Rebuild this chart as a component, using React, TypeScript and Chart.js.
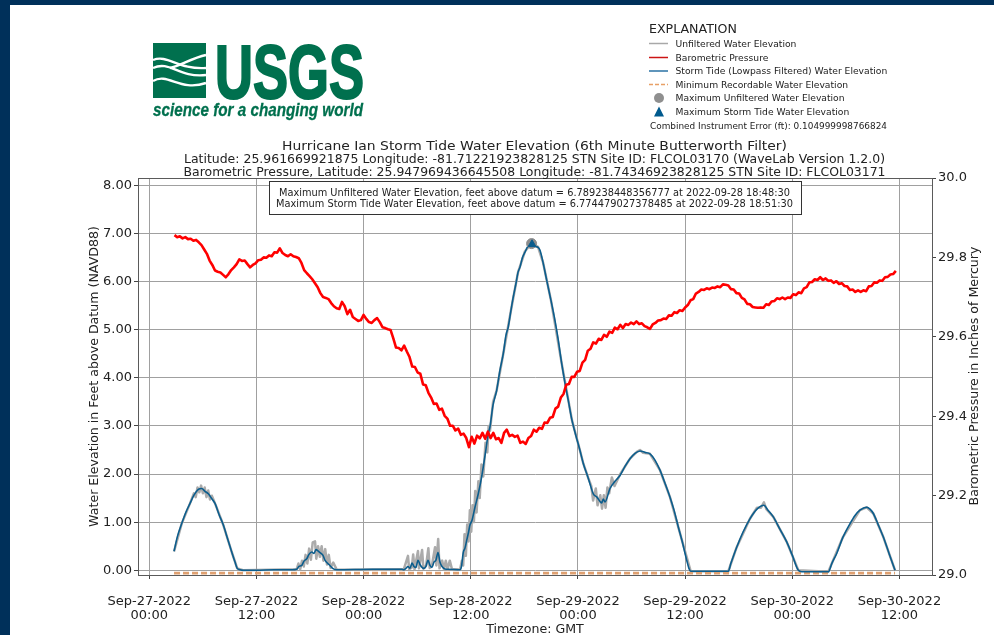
import React, { useEffect, useRef } from "react";
import { Chart, registerables } from "chart.js";

Chart.register(...registerables);

const FONT = "'DejaVu Sans', sans-serif";
const NAVY = "#00305a";
const GREEN = "#00704e";
const BLUE = "#0b5d8d";

const xTickHours = [0, 12, 24, 36, 48, 60, 72, 84];
const xTickLabels = [
  ["Sep-27-2022", "00:00"],
  ["Sep-27-2022", "12:00"],
  ["Sep-28-2022", "00:00"],
  ["Sep-28-2022", "12:00"],
  ["Sep-29-2022", "00:00"],
  ["Sep-29-2022", "12:00"],
  ["Sep-30-2022", "00:00"],
  ["Sep-30-2022", "12:00"],
];

const pressureFirstHour = 2.82;
const pressureLastHour = 83.6;
const pressure = [
  29.856, 29.851, 29.853, 29.848, 29.851, 29.846, 29.847, 29.842, 29.844, 29.838,
  29.831, 29.82, 29.809, 29.792, 29.781, 29.767, 29.764, 29.762, 29.756, 29.75,
  29.758, 29.768, 29.775, 29.783, 29.795, 29.791, 29.792, 29.783, 29.775, 29.781,
  29.785, 29.793, 29.794, 29.8, 29.799, 29.805, 29.803, 29.813, 29.812, 29.823,
  29.811, 29.806, 29.803, 29.808, 29.803, 29.801, 29.798, 29.786, 29.768, 29.76,
  29.753, 29.745, 29.735, 29.725, 29.71, 29.7, 29.698, 29.695, 29.685, 29.677,
  29.672, 29.67, 29.688, 29.677, 29.657, 29.668, 29.65, 29.645, 29.64, 29.642,
  29.655, 29.645, 29.637, 29.635, 29.642, 29.647, 29.637, 29.624, 29.622, 29.619,
  29.617, 29.596, 29.573, 29.572, 29.566, 29.578, 29.563, 29.549, 29.525, 29.524,
  29.51, 29.507, 29.48, 29.478, 29.459, 29.447, 29.431, 29.432, 29.416, 29.419,
  29.401, 29.394, 29.376, 29.376, 29.364, 29.369, 29.353, 29.356, 29.345, 29.322,
  29.348, 29.331, 29.351, 29.344, 29.358, 29.343, 29.361, 29.345, 29.358, 29.342,
  29.345, 29.333, 29.358, 29.366, 29.35, 29.353, 29.348, 29.351, 29.333, 29.336,
  29.33, 29.345, 29.35, 29.366, 29.361, 29.371, 29.368, 29.384, 29.383, 29.396,
  29.398, 29.419, 29.424, 29.447, 29.456, 29.479, 29.481, 29.499, 29.499, 29.512,
  29.514, 29.535, 29.542, 29.565, 29.57, 29.586, 29.583, 29.595, 29.592, 29.605,
  29.6, 29.613, 29.61, 29.623, 29.619, 29.63, 29.622, 29.632, 29.63, 29.636,
  29.632, 29.639, 29.632, 29.634, 29.627, 29.624, 29.62, 29.631, 29.635, 29.641,
  29.642, 29.646, 29.645, 29.654, 29.653, 29.662, 29.66, 29.667, 29.665, 29.674,
  29.68, 29.692, 29.695, 29.709, 29.713, 29.719, 29.718, 29.722, 29.72, 29.724,
  29.723, 29.727, 29.725, 29.732, 29.731, 29.729, 29.72, 29.719, 29.71, 29.709,
  29.698, 29.694, 29.683, 29.682, 29.675, 29.674, 29.673, 29.674, 29.673, 29.682,
  29.68, 29.689, 29.69, 29.697, 29.695, 29.699, 29.695, 29.699, 29.698, 29.707,
  29.705, 29.712, 29.71, 29.722, 29.725, 29.737, 29.738, 29.745, 29.743, 29.75,
  29.743, 29.747, 29.741, 29.742, 29.736, 29.74, 29.733, 29.735, 29.728, 29.727,
  29.718, 29.719, 29.713, 29.717, 29.713, 29.717, 29.715, 29.727, 29.728, 29.737,
  29.736, 29.742, 29.741, 29.75, 29.751, 29.757, 29.758, 29.766,
];

const tideHours = [
  2.77, 3.16, 3.63, 4.11, 4.56, 5.0, 5.49, 5.87, 6.24, 6.61, 7.02, 7.36, 7.81, 8.29, 8.76, 9.23, 9.6, 9.85, 10.16, 10.53,
  12, 14, 16, 16.5, 16.76, 17.07, 17.32, 17.63, 17.88, 18.19, 18.44, 18.67, 18.92, 19.23, 19.45, 19.67, 20.12, 20.54, 20.99,
  25, 28.26, 28.52, 28.74, 28.97, 29.19, 29.42, 29.64, 29.86, 30.09, 30.31, 30.54, 30.76, 30.98, 31.21, 31.43, 31.65, 31.88,
  32.1, 32.33, 32.55, 32.77, 32.99, 33.22, 33.45, 34.79, 34.96, 35.16, 35.35, 35.54, 35.75, 35.91, 36.14, 36.47, 36.84,
  37.22, 37.4, 37.65, 37.96, 38.15, 38.49, 38.9, 39.27, 39.64, 39.94, 40.2, 40.5, 40.76, 41.06, 41.29, 41.51, 41.79, 42.07,
  42.41, 42.82, 43.19, 43.53, 43.75, 44.09, 44.5, 44.98, 45.43, 45.77, 46.18, 46.55, 46.92, 47.33, 47.67, 48.23, 48.6,
  49.13, 49.72, 50.13, 50.66, 50.84, 51.03, 51.59, 52.15, 52.71, 53.27, 53.83, 54.39, 54.95, 55.51, 56.07, 56.63, 57.19,
  57.75, 58.31, 58.76, 59.24, 59.65, 60.18, 60.43, 60.63, 64.84, 65.14, 65.78, 66.48, 67.26, 68.05, 68.83, 69.28, 69.88,
  70.63, 71.38, 71.97, 72.68, 73.06, 76.04, 76.45, 76.98, 77.68, 78.47, 79.03, 79.58, 80.34, 80.71, 81.08, 81.6, 82.2, 82.84, 83.51,
];
const tideFeet = [
  0.395, 0.71, 0.97, 1.21, 1.39, 1.56, 1.68, 1.7, 1.64, 1.59, 1.48, 1.39, 1.16, 0.94, 0.66, 0.38, 0.17, 0.04, 0.01, 0,
  0, 0.01, 0.01, 0.02, 0.08, 0.1, 0.19, 0.24, 0.33, 0.38, 0.35, 0.43, 0.4, 0.35, 0.31, 0.21, 0.12, 0.04, 0.01,
  0.02, 0.02, 0.01, 0.04, 0.08, 0.04, 0.15, 0.08, 0.06, 0.21, 0.12, 0.06, 0.04, 0.08, 0.21, 0.1, 0.06, 0.17,
  0.21, 0.37, 0.17, 0.08, 0.04, 0.02, 0.02, 0.01, 0.08, 0.37, 0.46, 0.62, 0.79, 0.94, 1.04, 1.31, 1.59,
  1.94, 2.15, 2.45, 2.84, 2.98, 3.43, 3.74, 4.16, 4.5, 4.88, 5.06, 5.4, 5.68, 5.96, 6.19, 6.3, 6.5, 6.61,
  6.73, 6.75, 6.73, 6.71, 6.65, 6.4, 6.03, 5.61, 5.19, 4.82, 4.3, 3.89, 3.53, 3.12, 2.87, 2.49, 2.22,
  1.93, 1.59, 1.52, 1.4, 1.48, 1.42, 1.7, 1.85, 1.97, 2.16, 2.32, 2.43, 2.48, 2.45, 2.42, 2.29, 2.08,
  1.81, 1.52, 1.25, 0.9, 0.62, 0.21, 0.04, -0.02, -0.02, 0.15, 0.48, 0.79, 1.07, 1.27, 1.35, 1.25, 1.11,
  0.85, 0.59, 0.33, 0, -0.03, -0.03, 0.15, 0.35, 0.69, 0.97, 1.14, 1.25, 1.31, 1.27, 1.18, 0.96, 0.69, 0.35, 0,
];

const rawHours = [
  2.77, 3.63, 4.56, 5.0, 5.2, 5.4, 5.6, 5.8, 6.0, 6.2, 6.4, 6.6, 6.8, 7.0, 7.36, 8.29, 9.23, 9.85, 10.5, 16.5,
  16.7, 16.9, 17.1, 17.3, 17.5, 17.7, 17.9, 18.1, 18.3, 18.56, 18.7, 18.9, 19.1, 19.3, 19.5, 19.7, 19.9, 20.1, 20.3, 20.6, 21, 28.3,
  28.5, 28.97, 29.1, 29.4, 29.55, 29.7, 30.09, 30.2, 30.55, 30.7, 31.0, 31.25, 31.4, 31.65, 32.0, 32.15, 32.35, 32.5, 32.8, 33.0, 33.2, 33.4, 33.65, 33.9, 34.5, 34.8,
  35.0, 35.15, 35.3, 35.45, 35.6, 35.75, 35.9, 36.05, 36.2, 36.35, 36.5, 36.65, 36.85, 37, 37.2, 37.4, 37.65, 37.85, 38.0, 38.15, 38.5,
  38.9, 39.64, 40.5, 41.29, 42.07, 42.82, 43.53, 44.09, 44.98, 46.18, 47.33, 48.23, 48.6, 49.13, 49.5, 49.7, 50, 50.2, 50.5, 50.7, 50.9, 51.1, 51.3, 51.5, 51.8, 52.1, 52.71,
  53.83, 54.6, 54.95, 55.3, 56.07, 57.19, 58.31, 59.65, 60.63, 64.84, 65.78, 67.26, 68.05, 68.5, 68.83, 69.1, 69.88, 71.38, 72.68, 76.04, 77.68, 79.58, 80.34, 81.08, 82.2, 83.51,
];
const rawFeet = [
  0.39, 0.97, 1.39, 1.6, 1.52, 1.72, 1.62, 1.76, 1.6, 1.72, 1.52, 1.66, 1.47, 1.55, 1.39, 0.94, 0.38, 0.04, 0, 0.02,
  0.14, 0.02, 0.2, 0.08, 0.32, 0.14, 0.45, 0.22, 0.58, 0.6, 0.24, 0.5, 0.28, 0.5, 0.2, 0.44, 0.12, 0.32, 0.05, 0.16, 0.01, 0.02,
  0.02, 0.3, 0.02, 0.06, 0.33, 0.02, 0.4, 0.04, 0.42, 0.03, 0.1, 0.46, 0.05, 0.1, 0.48, 0.1, 0.65, 0.04, 0.2, 0.02, 0.2, 0.02, 0.2, 0.02, 0.02, 0.01,
  0.2, 0.1, 0.75, 0.3, 0.95, 0.6, 1.25, 0.8, 1.35, 1.0, 1.65, 1.2, 1.85, 1.5, 2.2, 1.95, 2.65, 2.45, 3.0, 2.9, 3.5,
  3.74, 4.5, 5.4, 6.19, 6.63, 6.79, 6.72, 6.4, 5.61, 4.3, 3.12, 2.49, 2.22, 1.93, 1.75, 1.45, 1.7, 1.35, 1.56, 1.28, 1.56, 1.3, 1.72, 1.6, 1.93, 1.75, 1.99,
  2.32, 2.46, 2.5, 2.44, 2.42, 2.08, 1.52, 0.62, -0.02, -0.02, 0.48, 1.07, 1.3, 1.3, 1.41, 1.27, 1.11, 0.59, 0, -0.03, 0.69, 1.25, 1.31, 1.18, 0.69, 0,
];

const minimumHours = [2.77, 83.51];
const minimumFeet = [-0.06, -0.06];
const maxRawHour = [42.81];
const maxRawFeet = [6.789];
const maxTideHour = [42.86];
const maxTideFeet = [6.774];

const annotationLines = [
  "Maximum Unfiltered Water Elevation, feet above datum = 6.789238448356777 at 2022-09-28 18:48:30",
  "Maximum Storm Tide Water Elevation, feet above datum = 6.774479027378485 at 2022-09-28 18:51:30",
];
const titleLines = [
  "Hurricane Ian Storm Tide Water Elevation (6th Minute Butterworth Filter)",
  "Latitude: 25.961669921875 Longitude: -81.71221923828125 STN Site ID: FLCOL03170 (WaveLab Version 1.2.0)",
  "Barometric Pressure, Latitude: 25.947969436645508 Longitude: -81.74346923828125 STN Site ID: FLCOL03171",
];
const legendLabels = [
  "Unfiltered Water Elevation",
  "Barometric Pressure",
  "Storm Tide (Lowpass Filtered) Water Elevation",
  "Minimum Recordable Water Elevation",
  "Maximum Unfiltered Water Elevation",
  "Maximum Storm Tide Water Elevation",
];
const rightAxisTitle = "Barometric Pressure in Inches of Mercury";

const pairs = (xs: number[], ys: number[]) => ys.map((y, i) => ({ x: xs[i], y }));

const frameAndRightTitle = {
  id: "frameAndRightTitle",
  afterDraw(chart: any) {
    const { ctx, chartArea: a } = chart;
    ctx.save();
    ctx.strokeStyle = "#5a5a5a";
    ctx.lineWidth = 1;
    ctx.strokeRect(Math.round(a.left) + 0.5, Math.round(a.top) + 0.5, Math.round(a.right - a.left), Math.round(a.bottom - a.top));
    ctx.translate(975, 376);
    ctx.rotate(-Math.PI / 2);
    ctx.fillStyle = "#222";
    ctx.font = `12.6px ${FONT}`;
    ctx.textAlign = "center";
    ctx.textBaseline = "middle";
    ctx.fillText(rightAxisTitle, 0, 0);
    ctx.restore();
  },
};

function ChartCanvas() {
  const ref = useRef<HTMLCanvasElement | null>(null);
  useEffect(() => {
    const lineStyle = { pointRadius: 0, tension: 0, fill: false, borderJoinStyle: "round" };
    const chart = new Chart(ref.current as HTMLCanvasElement, {
      type: "line",
      plugins: [frameAndRightTitle],
      data: {
        datasets: [
          { label: legendLabels[0], data: pairs(rawHours, rawFeet), borderColor: "#ababab", borderWidth: 2.5, yAxisID: "y", order: 6, ...lineStyle },
          { label: legendLabels[3], data: pairs(minimumHours, minimumFeet), borderColor: "#dfa070", borderWidth: 2.6, borderDash: [6, 3], yAxisID: "y", order: 5, ...lineStyle },
          { label: legendLabels[2], data: pairs(tideHours, tideFeet), borderColor: BLUE, borderWidth: 1.6, yAxisID: "y", order: 4, ...lineStyle, cubicInterpolationMode: "monotone" },
          { label: legendLabels[4], data: pairs(maxRawHour, maxRawFeet), borderColor: "#8c8c8c", backgroundColor: "#8c8c8c", showLine: false, pointStyle: "circle", pointRadius: 5, yAxisID: "y", order: 3 },
          { label: legendLabels[5], data: pairs(maxTideHour, maxTideFeet), borderColor: BLUE, backgroundColor: BLUE, showLine: false, pointStyle: "triangle", pointRadius: 4.5, yAxisID: "y", order: 2 },
          { label: legendLabels[1], data: pressure.map((y, i) => ({ x: pressureFirstHour + (i * (pressureLastHour - pressureFirstHour)) / (pressure.length - 1), y })), borderColor: "#ff0000", borderWidth: 2.6, yAxisID: "y2", order: 1, ...lineStyle },
        ],
      },
      options: {
        animation: false,
        responsive: false,
        layout: { padding: { left: 80, right: 4, top: 178, bottom: 0 } },
        plugins: {
          legend: { display: false },
          tooltip: { enabled: false },
        },
        scales: {
          x: {
            type: "linear",
            min: -1.265,
            max: 87.65,
            afterFit: (s: any) => { s.height = 60; },
            grid: { color: "#a0a0a0", lineWidth: 1, tickLength: 4, tickColor: "#444" },
            border: { color: "#5a5a5a" },
            title: { display: true, text: "Timezone: GMT", color: "#222", font: { family: FONT, size: 12.6, lineHeight: 0.9 }, padding: 0 },
            afterBuildTicks: (s: any) => { s.ticks = xTickHours.map((value) => ({ value })); },
            ticks: {
              color: "#222",
              font: { family: FONT, size: 13, lineHeight: 1.13 },
              padding: 15,
              maxRotation: 0,
              autoSkip: false,
              callback: (v: any) => xTickLabels[xTickHours.indexOf(Number(v))] ?? "",
            },
          },
          y: {
            position: "left",
            min: -0.098,
            max: 8.152,
            afterFit: (s: any) => { s.width = 58; },
            grid: { color: "#a0a0a0", lineWidth: 1, tickLength: 4, tickColor: "#444" },
            border: { color: "#5a5a5a" },
            title: { display: true, text: "Water Elevation in Feet above Datum (NAVD88)", color: "#222", font: { family: FONT, size: 12.6 }, padding: { top: 7, bottom: 0 } },
            ticks: { stepSize: 1, includeBounds: false, color: "#222", font: { family: FONT, size: 13 }, padding: 2, callback: (v: any) => Number(v).toFixed(2) },
          },
          y2: {
            position: "right",
            min: 29,
            max: 30,
            afterFit: (s: any) => { s.width = 58; },
            grid: { drawOnChartArea: false, tickLength: 4, tickColor: "#444" },
            border: { color: "#5a5a5a" },
            ticks: { stepSize: 0.2, color: "#222", font: { family: FONT, size: 13 }, padding: 2, callback: (v: any) => Number(v).toFixed(1) },
          },
        },
      },
    } as any);
    return () => chart.destroy();
  }, []);
  return <canvas ref={ref} width={994} height={635} style={{ position: "absolute", left: 0, top: 0, width: 994, height: 635 }} />;
}

function Logo() {
  return (
    <g>
      <rect x={153} y={43} width={53} height={55} fill={GREEN} />
      <g fill="none" stroke="#fff" strokeWidth={2.4}>
        <path d="M153,60 C168,54 178,70 206,68" />
        <path d="M153,68 C170,60 178,78 206,75" />
        <path d="M153,81 C168,72 180,92 206,83" />
        <path d="M206,55 C192,58 180,66 170,68" />
      </g>
      <text x={215} y={98} fontFamily="'Liberation Sans', sans-serif" fontWeight={700} fontSize={76} fill={GREEN} stroke={GREEN} strokeWidth={2.2} textLength={149} lengthAdjust="spacingAndGlyphs">USGS</text>
      <text x={153} y={116} fontFamily="'Liberation Sans', sans-serif" fontWeight={700} fontStyle="italic" fontSize={18} fill={GREEN} stroke={GREEN} strokeWidth={0.3} textLength={210} lengthAdjust="spacingAndGlyphs">science for a changing world</text>
    </g>
  );
}

function Legend() {
  const rowY = [43.5, 57.5, 71, 84.5, 98, 111.5];
  const t = { fontFamily: FONT, fontSize: 9.2, fill: "#222" };
  return (
    <g>
      <text x={649} y={33} fontFamily={FONT} fontSize={12.6} fill="#222">EXPLANATION</text>
      <line x1={649} x2={668} y1={rowY[0]} y2={rowY[0]} stroke="#a8a8a8" strokeWidth={1.5} />
      <line x1={649} x2={668} y1={rowY[1]} y2={rowY[1]} stroke="#cc1414" strokeWidth={1.5} />
      <line x1={649} x2={668} y1={rowY[2]} y2={rowY[2]} stroke="#2a72a4" strokeWidth={1.5} />
      <line x1={649} x2={668} y1={rowY[3]} y2={rowY[3]} stroke="#e8a066" strokeWidth={1.5} strokeDasharray="4 2" />
      <circle cx={659} cy={rowY[4]} r={5} fill="#8f8f8f" />
      <path d={`M659,${rowY[5] - 5} L664,${rowY[5] + 5} L654,${rowY[5] + 5} Z`} fill="#005a8e" />
      {legendLabels.map((s, i) => (
        <text key={s} x={675.5} y={rowY[i] + 3.3} {...t}>{s}</text>
      ))}
      <text x={650} y={129} textLength={237} lengthAdjust="spacingAndGlyphs" {...t}>Combined Instrument Error (ft): 0.104999998766824</text>
    </g>
  );
}

const titleWidths = [505, 701, 702];
const titleBaselines = [149.5, 162.5, 175.5];
const noteWidths = [511, 517];
const noteBaselines = [195.5, 206.5];

function Overlay() {
  return (
    <svg width={994} height={635} viewBox="0 0 994 635" style={{ position: "absolute", left: 0, top: 0 }}>
      <Logo />
      <Legend />
      {titleLines.map((s, i) => (
        <text key={s} x={534.5} y={titleBaselines[i]} textAnchor="middle" fontFamily={FONT} fontSize={13} fill="#222" textLength={titleWidths[i]} lengthAdjust="spacingAndGlyphs">{s}</text>
      ))}
      <rect x={269.5} y={181.5} width={532} height={33} fill="#fff" stroke="#333" strokeWidth={1} />
      {annotationLines.map((s, i) => (
        <text key={s} x={534.5} y={noteBaselines[i]} textAnchor="middle" fontFamily={FONT} fontSize={10} fill="#222" textLength={noteWidths[i]} lengthAdjust="spacingAndGlyphs">{s}</text>
      ))}
    </svg>
  );
}

export default function App() {
  useEffect(() => {
    document.body.style.margin = "0";
  }, []);
  return (
    <div style={{ position: "fixed", left: 0, top: 0, width: 994, height: 635, background: "#fff", overflow: "hidden" }}>
      <div style={{ position: "absolute", left: 0, top: 0, width: 994, height: 635, filter: "blur(0.4px)" }}>
        <ChartCanvas />
        <Overlay />
      </div>
      <div style={{ position: "absolute", left: 0, top: 0, width: 994, height: 5, background: NAVY }} />
      <div style={{ position: "absolute", left: 0, top: 0, width: 10, height: 635, background: NAVY }} />
    </div>
  );
}
